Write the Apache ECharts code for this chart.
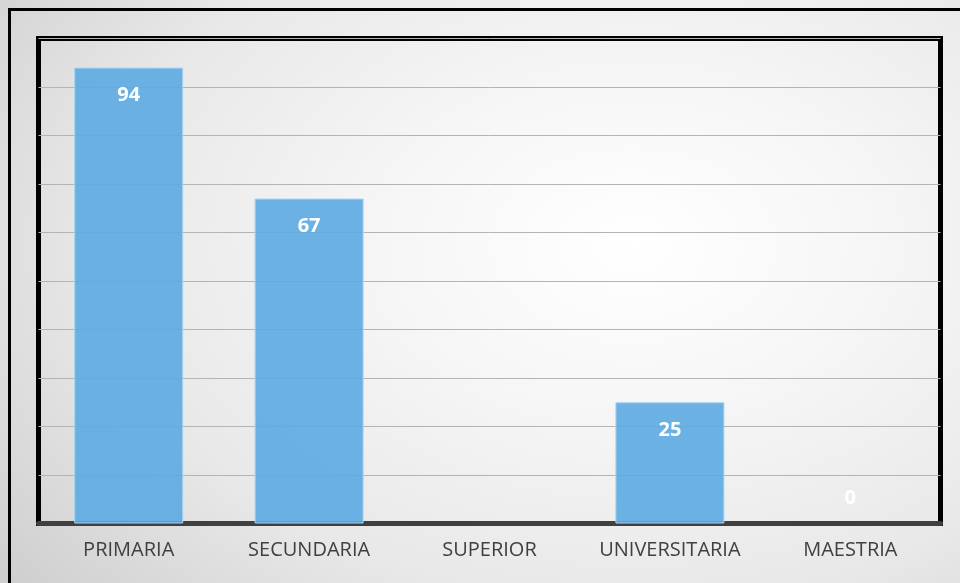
<!DOCTYPE html>
<html>
<head>
<meta charset="utf-8">
<style>
	html, body { margin: 0; padding: 0; }
	#chart {
		width: 960px;
		height: 583px;
		background: radial-gradient(ellipse 85% 95% at 66% 42%, #ffffff 0%, #f6f6f6 30%, #e8e8e8 65%, #cdcdcd 100%);
	}
</style>
<script src="https://cdn.jsdelivr.net/npm/echarts@6/dist/echarts.min.js"></script>
</head>
<body>
<div id="chart"></div>
<script>
// datos del grafico
var categories = ['PRIMARIA', 'SECUNDARIA', 'SUPERIOR', 'UNIVERSITARIA', 'MAESTRIA']
var values = [94, 67, null, 25, 0]

var chart = echarts.init(document.getElementById('chart'))

// la barra con 0 lleva la etiqueta encima de la linea base
var seriesData = values.map(function(v) {
	if (v === 0) {
		return {
			value: v,
			itemStyle: { borderWidth: 0 },
			label: { position: 'top', distance: 15 },
		}
	}
	return v
})

chart.setOption({
	animation: false,
	backgroundColor: 'transparent',
	graphic: [
		{
			type: 'rect',
			shape: { x: 9.5, y: 9.5, width: 1000, height: 1000 },
			style: { fill: 'none', stroke: '#000', lineWidth: 3 },
			silent: true,
		},
	],
	grid: {
		left: 38.5,
		right: 19.5,
		top: 38.5,
		bottom: 59.5,
		show: true,
		borderColor: '#000',
		borderWidth: 5,
		backgroundColor: 'transparent',
	},
	xAxis: {
		type: 'category',
		data: categories,
		axisTick: { show: false },
		axisLine: { lineStyle: { color: '#404040', width: 5 } },
		axisLabel: {
			interval: 0,
			color: '#404040',
			fontFamily: 'Open Sans',
			fontSize: 20,
			margin: 17,
		},
	},
	yAxis: {
		type: 'value',
		min: 0,
		max: 100,
		interval: 10,
		axisLabel: { show: false },
		axisLine: { show: false },
		axisTick: { show: false },
		splitLine: { lineStyle: { color: '#b4b4b4', width: 1 } },
	},
	series: [
		{
			type: 'bar',
			data: seriesData,
			barWidth: 109,
			itemStyle: {
				color: 'rgba(92, 170, 226, 0.9)',
				borderColor: '#a9d3f0',
				borderWidth: 1,
			},
			label: {
				show: true,
				position: 'insideTop',
				distance: 18,
				color: '#fff',
				fontFamily: 'Open Sans',
				fontWeight: 'bold',
				fontSize: 20,
			},
		},
	],
})
</script>
</body>
</html>
